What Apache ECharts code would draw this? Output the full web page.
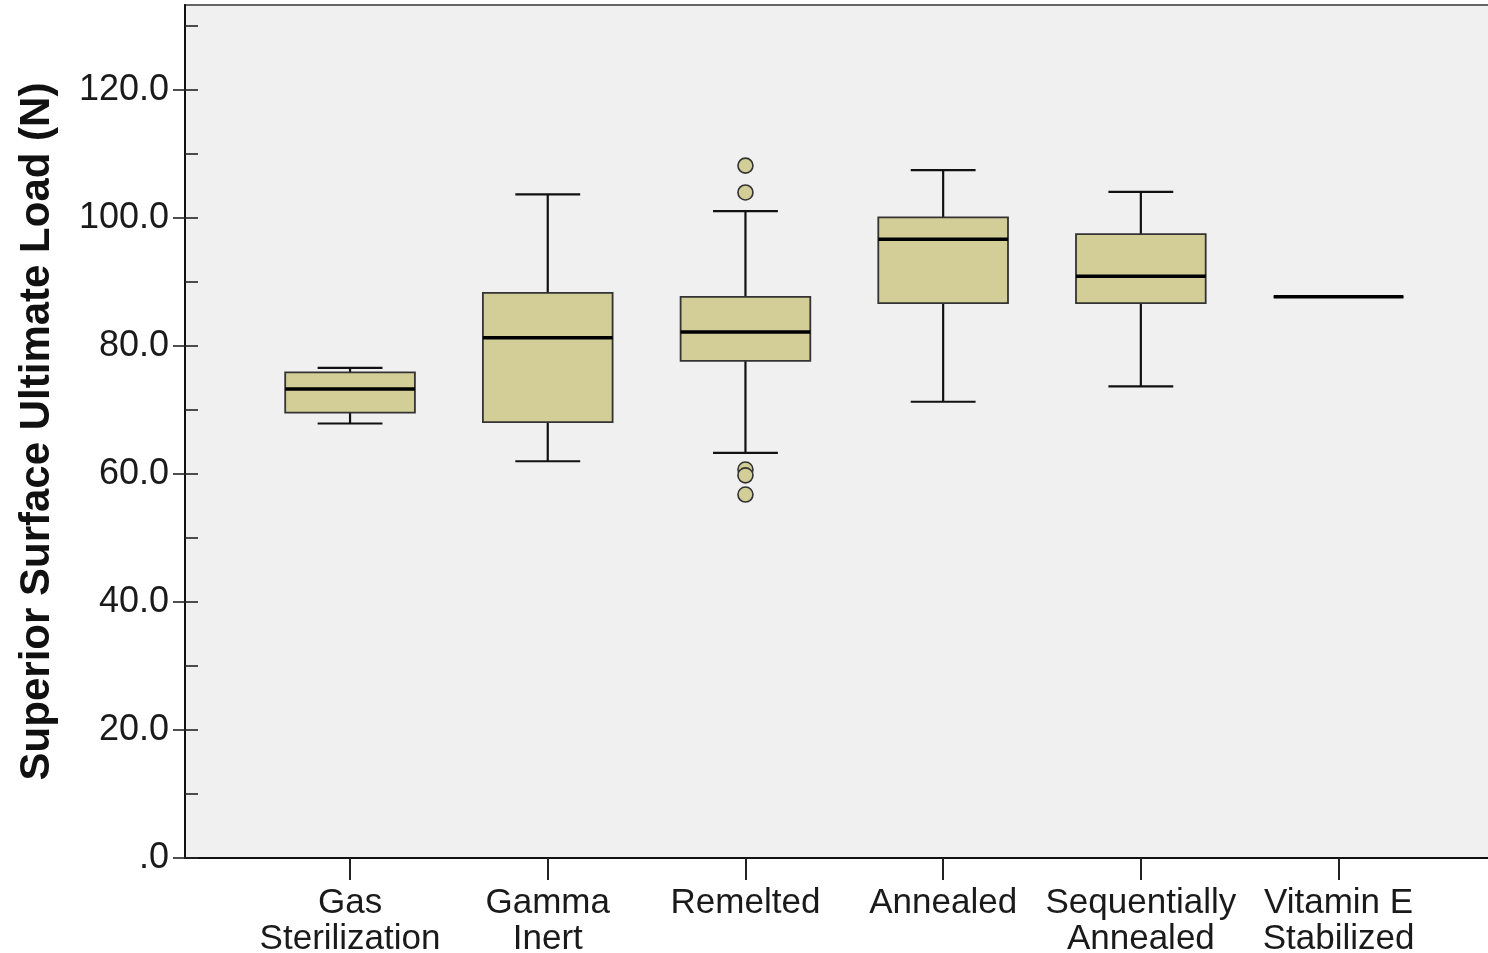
<!DOCTYPE html>
<html>
<head>
<meta charset="utf-8">
<title>Superior Surface Ultimate Load</title>
<script src="https://cdn.jsdelivr.net/npm/echarts@6/dist/echarts.min.js"></script>
<style>
  html, body { margin: 0; padding: 0; background: #ffffff; }
  #chart { width: 1488px; height: 953px; }
</style>
</head>
<body>
<div id="chart"></div>
<script>
// Groups shown along the x axis
const categories = [
  'Gas\nSterilization',
  'Gamma\nInert',
  'Remelted',
  'Annealed',
  'Sequentially\nAnnealed',
  'Vitamin E\nStabilized'
];

// Five-number summaries per group: [lower whisker, Q1, median, Q3, upper whisker]
const whiskerLow  = [67.9, 62.0, 63.3, 71.3, 73.7, 87.7];
const quartile1   = [69.6, 68.1, 77.7, 86.7, 86.7, 87.7];
const medians     = [73.3, 81.3, 82.2, 96.7, 90.9, 87.7];
const quartile3   = [75.9, 88.3, 87.7, 100.1, 97.5, 87.7];
const whiskerHigh = [76.6, 103.7, 101.1, 107.5, 104.1, 87.7];

// Outlying observations: group index and value
const outlierGroup = [2, 2, 2, 2, 2];
const outlierValue = [108.2, 104.0, 60.7, 59.8, 56.8];

// Y axis range and tick positions
const yMin = 0;
const yMax = 133.3;
const yLabelTicks = [0, 20, 40, 60, 80, 100, 120];
const yAllTicks = [0, 10, 20, 30, 40, 50, 60, 70, 80, 90, 100, 110, 120, 130];

const FONT = "'Liberation Sans', Arial, Helvetica, sans-serif";
const BOX_FILL = '#d3ce98';

const boxData = categories.map((c, i) => [
  i, whiskerLow[i], quartile1[i], medians[i], quartile3[i], whiskerHigh[i]
]);
const outlierData = outlierGroup.map((g, i) => [g, outlierValue[i]]);

function renderBox(params, api) {
  const idx = api.value(0);
  const lo = api.coord([idx, api.value(1)]);
  const q1 = api.coord([idx, api.value(2)]);
  const md = api.coord([idx, api.value(3)]);
  const q3 = api.coord([idx, api.value(4)]);
  const hi = api.coord([idx, api.value(5)]);
  const band = api.size([1, 0])[0];
  const halfBox = band * 0.656 / 2;
  const halfCap = halfBox / 2;
  const cx = md[0];
  const whisker = { stroke: '#111', lineWidth: 2.2, fill: null };
  return {
    type: 'group',
    children: [
      { type: 'line', shape: { x1: cx, y1: hi[1], x2: cx, y2: q3[1] }, style: whisker },
      { type: 'line', shape: { x1: cx, y1: q1[1], x2: cx, y2: lo[1] }, style: whisker },
      { type: 'line', shape: { x1: cx - halfCap, y1: hi[1], x2: cx + halfCap, y2: hi[1] }, style: whisker },
      { type: 'line', shape: { x1: cx - halfCap, y1: lo[1], x2: cx + halfCap, y2: lo[1] }, style: whisker },
      {
        type: 'rect',
        shape: { x: cx - halfBox, y: q3[1], width: halfBox * 2, height: q1[1] - q3[1] },
        style: { fill: BOX_FILL, stroke: '#333', lineWidth: 1.8 }
      },
      {
        type: 'line',
        shape: { x1: cx - halfBox, y1: md[1], x2: cx + halfBox, y2: md[1] },
        style: { stroke: '#000', lineWidth: 3.6 }
      }
    ]
  };
}

const chart = echarts.init(document.getElementById('chart'), null, { renderer: 'canvas' });

chart.setOption({
  animation: false,
  backgroundColor: '#ffffff',
  textStyle: { fontFamily: FONT },
  grid: [
    {
      left: 185, top: 5, width: 1340, bottom: 95, outerBoundsMode: 'none',
      show: true, backgroundColor: '#f0f0f0', borderColor: '#666', borderWidth: 2
    },
    {
      left: 251.2, top: 5, width: 1186.2, bottom: 95, outerBoundsMode: 'none', show: false
    }
  ],
  xAxis: [
    {
      gridIndex: 0, type: 'value', min: 0, max: 1,
      axisLine: { show: true, lineStyle: { color: '#111', width: 2 } },
      axisTick: { show: false }, axisLabel: { show: false }, splitLine: { show: false }
    },
    {
      gridIndex: 1, type: 'category', data: categories, boundaryGap: true,
      axisLine: { show: false },
      axisTick: { show: true, alignWithLabel: true, length: 22, lineStyle: { color: '#222', width: 2 } },
      axisLabel: {
        interval: 0, margin: 27, fontSize: 35, lineHeight: 36,
        color: '#1a1a1a', fontFamily: FONT, align: 'center'
      },
      splitLine: { show: false }
    }
  ],
  yAxis: [
    {
      gridIndex: 0, type: 'value', min: yMin, max: yMax, position: 'left',
      axisLine: { show: true, lineStyle: { color: '#111', width: 2 } },
      axisTick: { show: true, customValues: yLabelTicks, length: 12, lineStyle: { color: '#222', width: 1.6 } },
      axisLabel: {
        customValues: yLabelTicks, margin: 16, fontSize: 36, color: '#1a1a1a', fontFamily: FONT,
        padding: [5, 0, 0, 0],
        formatter: v => (v === 0 ? '.0' : v.toFixed(1))
      },
      splitLine: { show: false },
      name: 'Superior Surface Ultimate Load (N)',
      nameLocation: 'middle',
      nameGap: 127,
      nameRotate: 90,
      nameTextStyle: { fontSize: 42, fontWeight: 'bold', color: '#111', fontFamily: FONT }
    },
    {
      gridIndex: 0, type: 'value', min: yMin, max: yMax, position: 'left',
      axisLine: { show: false },
      axisTick: { show: true, inside: true, customValues: yAllTicks, length: 13, lineStyle: { color: '#222', width: 1.6 } },
      axisLabel: { show: false },
      splitLine: { show: false }
    },
    {
      gridIndex: 1, type: 'value', min: yMin, max: yMax, show: false
    }
  ],
  series: [
    {
      type: 'custom',
      xAxisIndex: 1, yAxisIndex: 2,
      renderItem: renderBox,
      encode: { x: 0, y: [1, 2, 3, 4, 5] },
      data: boxData,
      z: 3
    },
    {
      type: 'scatter',
      xAxisIndex: 1, yAxisIndex: 2,
      symbol: 'circle', symbolSize: 15,
      itemStyle: { color: BOX_FILL, borderColor: '#333', borderWidth: 1.6, opacity: 1 },
      data: outlierData,
      z: 4
    }
  ]
});
</script>
</body>
</html>
